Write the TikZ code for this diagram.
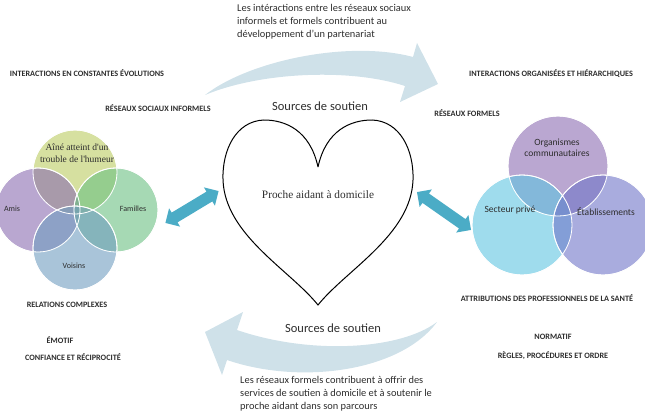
\documentclass[tikz,border=0pt]{standalone}
\usepackage{fontspec}
\setmainfont{Carlito}
\newfontfamily\romanface{Liberation Serif}
\usetikzlibrary{shapes.arrows}

\definecolor{flowblue}{RGB}{207,225,233}
\definecolor{linkteal}{RGB}{75,172,198}
\definecolor{inktxt}{RGB}{45,45,45}
% informal network
\definecolor{vtop}{RGB}{187,203,97}
\definecolor{vleft}{RGB}{138,108,177}
\definecolor{vright}{RGB}{107,192,130}
\definecolor{vbot}{RGB}{112,157,192}
% formal network
\definecolor{ftop}{RGB}{140,108,178}
\definecolor{fleft}{RGB}{95,196,225}
\definecolor{fright}{RGB}{112,117,200}

\begin{document}
\begin{tikzpicture}[x=1pt,y=-1pt,
  caps/.style={font=\fontsize{8.2}{10}\selectfont\bfseries, text=inktxt, inner sep=0pt},
  blurb/.style={font=\fontsize{10.4}{13}\selectfont, text=inktxt, align=left, anchor=north west, inner sep=0pt},
  srclabel/.style={font=\fontsize{12.5}{14}\selectfont, text=inktxt, inner sep=0pt},
  vlabel/.style={font=\fontsize{8}{9}\selectfont, text=inktxt, inner sep=0pt},
  flabel/.style={font=\fontsize{9.5}{11.5}\selectfont, text=inktxt, inner sep=0pt, align=center},
  venn/.style={draw=white, line width=0.8pt, fill opacity=0.6},
  link/.style={double arrow, fill=linkteal, inner sep=5.5pt, double arrow head extend=5pt}]
\useasboundingbox (0,0) rectangle (645,420);

%curved arrows
\fill[flowblue] (205,95) .. controls (250,60) and (350,40) .. (413,57) -- (417,43) -- (438,84)
  -- (400,102) -- (405,86) .. controls (350,68) and (260,72) .. (205,95) -- cycle;
\fill[flowblue] (437,322) .. controls (400,350) and (310,355) .. (237,330) -- (243,312) -- (205,332)
  -- (222,375) -- (227,360) .. controls (300,385) and (400,372) .. (437,322) -- cycle;

%heart
\draw[line width=1pt] (318,167) .. controls (310,130) and (285,120) .. (264,120)
  .. controls (236,121) and (222,150) .. (223,180) .. controls (225,235) and (290,270) .. (318,305)
  .. controls (346,270) and (411,235) .. (413,180) .. controls (414,150) and (400,121) .. (372,120)
  .. controls (351,120) and (326,130) .. (318,167);
\node[font=\romanface\fontsize{11.3}{13}\selectfont, text=inktxt] (carer) at (318,195) {Proche aidant à domicile};
\node[srclabel] (srctop) at (320,106) {Sources de soutien};
\node[srclabel] (srcbot) at (333,328) {Sources de soutien};

%informal venn
\fill[venn, fill=vtop] (75,172) circle (42);
\fill[venn, fill=vleft] (38,210) circle (42);
\fill[venn, fill=vright] (116,210) circle (42);
\fill[venn, fill=vbot] (75,248) circle (42);
\draw[white, line width=0.8pt] (75,172) circle (42) (38,210) circle (42) (116,210) circle (42) (75,248) circle (42);
\node[font=\romanface\fontsize{9.5}{12}\selectfont, text=inktxt, align=center, inner sep=0pt] (elder) at (77,153) {Aîné atteint d'un\\trouble de l'humeur};
\node[vlabel] (amis) at (12,209) {Amis};
\node[vlabel] (famille) at (133,209) {Familles};
\node[vlabel] (voisin) at (74,266) {Voisins};

%formal venn
\fill[venn, fill=ftop] (558,166) circle (50);
\fill[venn, fill=fleft] (522,225) circle (50);
\fill[venn, fill=fright] (603,225) circle (50);
\draw[white, line width=0.8pt] (558,166) circle (50) (522,225) circle (50) (603,225) circle (50);
\node[flabel] (orga) at (557,148) {Organismes\\communautaires};
\node[flabel] (prive) at (510,210) {Secteur privé};
\node[flabel] (etab) at (606,212) {Établissements};

%links
\node[link, minimum height=62pt, rotate=31] (linkleft) at (192,207) {};
\node[link, minimum height=66pt, rotate=-35] (linkright) at (444,211) {};

%captions
\node[blurb] (blurbtop) at (237,4) {Les intéractions entre les réseaux sociaux\\informels et formels contribuent au\\développement d'un partenariat};
\node[blurb] (blurbbot) at (240,376) {Les réseaux formels contribuent à offrir des\\services de soutien à domicile et à soutenir le\\proche aidant dans son parcours};

\node[caps] (evol) at (87,73) {INTERACTIONS EN CONSTANTES ÉVOLUTIONS};
\node[caps] (informel) at (158,108) {RÉSEAUX SOCIAUX INFORMELS};
\node[caps] (complexe) at (67,305) {RELATIONS COMPLEXES};
\node[caps] (emotif) at (60,340) {ÉMOTIF};
\node[caps] (confiance) at (73,357) {CONFIANCE ET RÉCIPROCITÉ};

\node[caps] (hierarchie) at (551,74) {INTERACTIONS ORGANISÉES ET HIÉRARCHIQUES};
\node[caps] (formel) at (467,113) {RÉSEAUX FORMELS};
\node[caps] (attrib) at (547,298) {ATTRIBUTIONS DES PROFESSIONNELS DE LA SANTÉ};
\node[caps] (normatif) at (553,337) {NORMATIF};
\node[caps] (regles) at (553,356) {RÈGLES, PROCÉDURES ET ORDRE};
\end{tikzpicture}
\end{document}
